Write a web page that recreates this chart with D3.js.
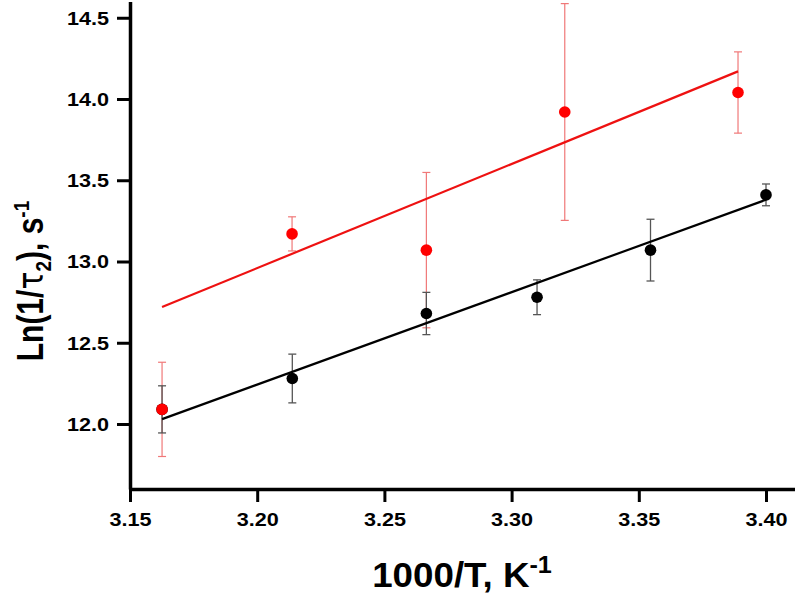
<!DOCTYPE html>
<html>
<head>
<meta charset="utf-8">
<script src="https://cdn.jsdelivr.net/npm/d3@7"></script>
<style>
  body { margin: 0; background: #fff; }
  svg { display: block; font-family: "Liberation Sans", Arial, sans-serif; }
</style>
</head>
<body>
<div id="chart"></div>
<script>
// red series: 1000/T, Ln(1/tau2), error
const xRed = [3.1626, 3.2137, 3.2665, 3.3209, 3.3890];
const yRed = [12.09, 13.17, 13.07, 13.92, 14.04];
const errRed = [0.29, 0.105, 0.478, 0.667, 0.25];

// black series
const xBlack = [3.1626, 3.2138, 3.2665, 3.3100, 3.3546, 3.4000];
const yBlack = [12.09, 12.28, 12.68, 12.78, 13.07, 13.41];
const errBlack = [0.145, 0.15, 0.13, 0.107, 0.19, 0.067];

// linear fits (end points)
const fitRedX = [3.1626, 3.3890];
const fitRedY = [12.72, 14.17];
const fitBlackX = [3.1626, 3.4000];
const fitBlackY = [12.03, 13.38];

// ticks
const xMajor = [3.15, 3.20, 3.25, 3.30, 3.35, 3.40];
const xMinor = [3.175, 3.225, 3.275, 3.325, 3.375];
const yMajor = [12.0, 12.5, 13.0, 13.5, 14.0, 14.5];
const yMinor = [11.75, 12.25, 12.75, 13.25, 13.75, 14.25];

const width = 795, height = 598;
const stretch = 1.2; // the reference text is a little wide

const svg = d3.select("#chart").append("svg")
    .attr("width", width)
    .attr("height", height);

const x = d3.scaleLinear().domain([3.15, 3.4114]).range([130, 795]);
const y = d3.scaleLinear().domain([11.6, 14.6]).range([489, 1.5]);

//axes
const gx = svg.append("g").attr("transform", `translate(0,${y(11.6)})`);
gx.call(d3.axisBottom(x).tickValues(xMinor).tickSize(8).tickSizeOuter(0).tickFormat(""));
gx.call(d3.axisBottom(x).tickValues(xMajor).tickSize(13).tickSizeOuter(0).tickFormat(d3.format(".2f")));

const gy = svg.append("g").attr("transform", `translate(${x(3.15)},0)`);
gy.call(d3.axisLeft(y).tickValues(yMinor).tickSize(8).tickSizeOuter(0).tickFormat(""));
gy.call(d3.axisLeft(y).tickValues(yMajor).tickSize(13).tickSizeOuter(0).tickFormat(d3.format(".1f")));

svg.selectAll(".domain").attr("stroke", "#000").attr("stroke-width", 3.5);
svg.selectAll(".tick line").attr("stroke", "#000").attr("stroke-width", 3);

gx.selectAll(".tick text")
    .attr("y", 37).attr("dy", null)
    .attr("transform", `scale(${stretch},1)`)
    .attr("font-size", 18).attr("font-weight", "bold").attr("fill", "#000")
    .attr("font-family", "Liberation Sans, Arial, sans-serif");

gy.selectAll(".tick text")
    .attr("x", -21 / stretch).attr("dy", "0.36em")
    .attr("transform", `scale(${stretch},1)`)
    .attr("font-size", 18).attr("font-weight", "bold").attr("fill", "#000")
    .attr("font-family", "Liberation Sans, Arial, sans-serif");

//error bars
function errorBars(xs, ys, es, color, w) {
    const g = svg.append("g").attr("stroke", color).attr("stroke-width", w);
    xs.forEach((xv, i) => {
        const px = x(xv), top = y(ys[i] + es[i]), bot = y(ys[i] - es[i]);
        g.append("line").attr("x1", px).attr("x2", px).attr("y1", top).attr("y2", bot);
        g.append("line").attr("x1", px - 4).attr("x2", px + 4).attr("y1", top).attr("y2", top);
        g.append("line").attr("x1", px - 4).attr("x2", px + 4).attr("y1", bot).attr("y2", bot);
    });
}
errorBars(xRed, yRed, errRed, "#f07878", 1.2);
errorBars(xBlack, yBlack, errBlack, "#555", 1.3);

//fit lines
const line = d3.line().x(d => x(d[0])).y(d => y(d[1]));
svg.append("path").datum(d3.zip(fitRedX, fitRedY))
    .attr("d", line).attr("fill", "none").attr("stroke", "#ee1111").attr("stroke-width", 2.2);
svg.append("path").datum(d3.zip(fitBlackX, fitBlackY))
    .attr("d", line).attr("fill", "none").attr("stroke", "#000").attr("stroke-width", 2.2);

//points
svg.append("g").selectAll("circle").data(d3.zip(xBlack, yBlack)).join("circle")
    .attr("cx", d => x(d[0])).attr("cy", d => y(d[1])).attr("r", 5.8).attr("fill", "#000");
svg.append("g").selectAll("circle").data(d3.zip(xRed, yRed)).join("circle")
    .attr("cx", d => x(d[0])).attr("cy", d => y(d[1])).attr("r", 5.8).attr("fill", "#ff0000");

//axis titles
const xt = svg.append("text")
    .attr("transform", `translate(462,587) scale(1.05,1)`)
    .attr("text-anchor", "middle")
    .attr("font-size", 35).attr("font-weight", "bold");
xt.append("tspan").text("1000/T, K");
xt.append("tspan").attr("font-size", 24).attr("dy", -14).text("-1");

const yt = svg.append("text")
    .attr("transform", `translate(43,281) rotate(-90) scale(1,${stretch})`)
    .attr("text-anchor", "middle")
    .attr("font-size", 30).attr("font-weight", "bold");
yt.append("tspan").text("Ln(1/");
yt.append("tspan").attr("font-weight", "normal").attr("font-family", "DejaVu Sans, sans-serif").text("τ");
yt.append("tspan").attr("font-size", 19).attr("dy", 7).text("2");
yt.append("tspan").attr("dy", -7).text("), s");
yt.append("tspan").attr("font-size", 19).attr("dy", -12).text("-1");
</script>
</body>
</html>
